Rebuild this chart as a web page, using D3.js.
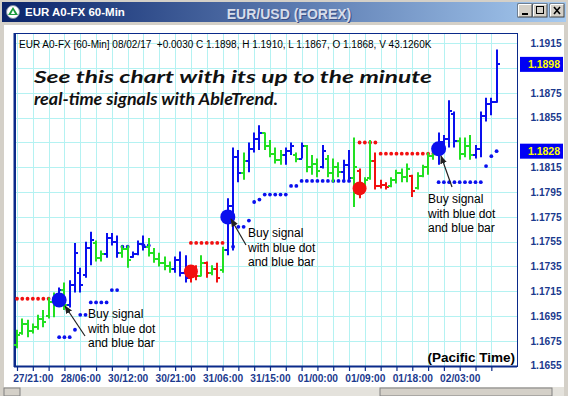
<!DOCTYPE html>
<html>
<head>
<meta charset="utf-8">
<script src="https://cdn.jsdelivr.net/npm/d3@7"></script>
<style>
  body { margin: 0; background: #d4d0c8; }
  svg { display: block; }
</style>
</head>
<body>
<svg id="chart" width="568" height="396"></svg>
<script>
// hourly bars, one per trading hour (weekend skipped), oldest first
const barHigh = [1.1684,1.1693,1.1692,1.1689,1.1696,1.1700,1.1710,1.1714,1.1718,1.1722,
  1.1724,1.1754,1.1734,1.1755,1.1763,1.1756,1.1748,1.1762,1.1762,1.1760,
  1.1752,1.1752,1.1747,1.1756,1.1760,1.1758,1.1750,1.1746,1.1743,1.1739,
  1.1743,1.1747,1.1744,1.1735,1.1736,1.1744,1.1739,1.1736,1.1738,1.1751,
  1.1790,1.1831,1.1829,1.1827,1.1835,1.1843,1.1849,1.1843,1.1837,1.1831,
  1.1829,1.1831,1.1835,1.1827,1.1835,1.1833,1.1825,1.1822,1.1833,1.1825,
  1.1822,1.1819,1.1821,1.1829,1.1839,1.1814,1.1807,1.1837,1.1827,1.1805,
  1.1803,1.1807,1.1813,1.1814,1.1818,1.1809,1.1811,1.1817,1.1827,1.1829,
  1.1843,1.1841,1.1869,1.1860,1.1839,1.1839,1.1841,1.1833,1.1860,1.1871,
  1.1871,1.1910];
const barLow = [1.1669,1.1680,1.1678,1.1681,1.1684,1.1686,1.1693,1.1694,1.1708,1.1700,
  1.1702,1.1714,1.1714,1.1726,1.1736,1.1739,1.1739,1.1742,1.1752,1.1742,
  1.1742,1.1734,1.1742,1.1744,1.1748,1.1743,1.1738,1.1735,1.1732,1.1730,
  1.1730,1.1727,1.1722,1.1722,1.1724,1.1727,1.1726,1.1728,1.1722,1.1730,
  1.1744,1.1748,1.1803,1.1805,1.1811,1.1827,1.1829,1.1829,1.1823,1.1818,
  1.1817,1.1817,1.1825,1.1819,1.1822,1.1811,1.1809,1.1807,1.1814,1.1807,
  1.1803,1.1807,1.1803,1.1805,1.1783,1.1790,1.1799,1.1805,1.1797,1.1798,
  1.1797,1.1799,1.1802,1.1803,1.1803,1.1791,1.1797,1.1807,1.1809,1.1821,
  1.1817,1.1827,1.1831,1.1831,1.1821,1.1823,1.1821,1.1822,1.1823,1.1852,
  1.1857,1.1867];
const barOpen = [1.1672,1.1681,1.1689,1.1683,1.1686,1.1693,1.1695,1.1706,1.1711,1.1716,
  1.1704,1.1720,1.1730,1.1728,1.1750,1.1754,1.1742,1.1745,1.1758,1.1755,
  1.1746,1.1749,1.1743,1.1745,1.1753,1.1751,1.1746,1.1741,1.1738,1.1735,
  1.1733,1.1740,1.1730,1.1726,1.1729,1.1727,1.1738,1.1730,1.1733,1.1732,
  1.1748,1.1784,1.1823,1.1810,1.1820,1.1830,1.1838,1.1843,1.1832,1.1826,
  1.1821,1.1825,1.1828,1.1825,1.1822,1.1832,1.1815,1.1818,1.1815,1.1822,
  1.1810,1.1815,1.1811,1.1817,1.1806,1.1812,1.1800,1.1806,1.1820,1.1800,
  1.1801,1.1800,1.1805,1.1810,1.1807,1.1808,1.1798,1.1808,1.1815,1.1824,
  1.1826,1.1835,1.1838,1.1858,1.1836,1.1826,1.1832,1.1825,1.1830,1.1856,
  1.1866,1.1868];
const barClose = [1.1680,1.1689,1.1683,1.1686,1.1693,1.1690,1.1706,1.1711,1.1716,1.1704,
  1.1720,1.1746,1.1720,1.1750,1.1756,1.1742,1.1745,1.1758,1.1755,1.1746,
  1.1749,1.1740,1.1745,1.1753,1.1751,1.1746,1.1741,1.1738,1.1735,1.1733,
  1.1740,1.1730,1.1726,1.1729,1.1727,1.1738,1.1730,1.1733,1.1726,1.1748,
  1.1784,1.1823,1.1810,1.1820,1.1830,1.1838,1.1843,1.1832,1.1826,1.1821,
  1.1825,1.1828,1.1832,1.1822,1.1832,1.1815,1.1818,1.1812,1.1828,1.1810,
  1.1815,1.1811,1.1817,1.1806,1.1815,1.1795,1.1805,1.1820,1.1800,1.1801,
  1.1799,1.1805,1.1810,1.1807,1.1814,1.1796,1.1808,1.1815,1.1824,1.1826,
  1.1835,1.1838,1.1860,1.1836,1.1826,1.1832,1.1825,1.1830,1.1856,1.1866,
  1.1868,1.1898];
// AbleTrend bar colour: B = up, R = down, G = neutral
const barTrend = ["G","G","G","G","G","G","G","G","B","G",
  "B","B","B","B","B","G","G","B","B","B",
  "G","G","B","B","B","G","G","G","G","G",
  "B","B","B","R","R","G","R","G","R","G",
  "B","B","B","G","B","B","B","G","G","G",
  "G","B","B","G","B","G","G","G","B","G",
  "G","G","B","B","G","R","G","G","R","R",
  "R","G","G","G","G","R","G","G","G","G",
  "B","B","B","B","G","G","G","B","B","B",
  "B","B"];

// stop dots [bar index, price]
const blueStops = [[8,1.1678],[9,1.1678],[10,1.1678],[11,1.1684],[12,1.1696],[13,1.1696],
  [14,1.1706],[15,1.1706],[16,1.1706],[17,1.1706],[18,1.1716],[19,1.1716],[20,1.1751],[21,1.1751],
  [24,1.1752],[25,1.1752],
  [41,1.1751],[42,1.1767],[43,1.1767],[44,1.1772],[45,1.1787],[46,1.1789],
  [47,1.1793],[48,1.1793],[49,1.1793],[50,1.1793],[51,1.1793],[52,1.1800],[53,1.1800],
  [54,1.1804],[55,1.1804],[56,1.1804],[57,1.1804],[58,1.1804],[59,1.1804],[60,1.1804],
  [61,1.1804],[62,1.1804],[63,1.1804],
  [80,1.1803],[81,1.1803],[82,1.1803],[83,1.1803],[84,1.1803],[85,1.1803],[86,1.1803],
  [87,1.1803],[88,1.1803],[89,1.1816],[90,1.1824],[91,1.1828]];
const redStops = [[0,1.1709],[1,1.1709],[2,1.1709],[3,1.1709],[4,1.1709],[5,1.1709],[6,1.1709],[7,1.1709],
  [33,1.1754],[34,1.1754],[35,1.1754],[36,1.1754],[37,1.1754],[38,1.1754],[39,1.1754],
  [65,1.1835],[66,1.1835],[67,1.1835],[68,1.1835],
  [69,1.1826],[70,1.1826],[71,1.1826],[72,1.1826],[73,1.1826],[74,1.1826],[75,1.1826],
  [76,1.1826],[77,1.1826],[78,1.1826],[79,1.1826]];
const buySignals = [[8,1.1708],[40,1.1775],[80,1.1830]];
const sellSignals = [[33,1.1731],[65,1.1798]];

const yTicks = [1.1655,1.1675,1.1695,1.1715,1.1735,1.1755,1.1775,1.1795,1.1815,1.1835,1.1855,1.1875,1.1895,1.1915];
const xTickIdx = [0,3,6,9,12,15,18,21,24,27,30,33,36,39,42,45,48,51,54,57,60,63,66,69,72,75,78,81,84,87,90];
const xLabelIdx = [3,12,21,30,39,48,57,66,75,84];
const xLabels = ["27/21:00","28/06:00","30/12:00","30/21:00","31/06:00","31/15:00","01/00:00","01/09:00","01/18:00","02/03:00"];
const priceMarks = [1.1898, 1.1828]; // last close, current stop

const svg = d3.select("#chart");
const width = +svg.attr("width");
const height = +svg.attr("height");
const plot = { left: 15, right: 517, top: 33, bottom: 366 };
const navy = "#1b3a8e";
const trendColor = { B: "#0a10ee", G: "#22e022", R: "#f21010" };

const x = d3.scaleLinear().domain([0, 91]).range([17, 496.6]);
const y = d3.scaleLinear().domain([1.1655, 1.19233]).range([365.7, 33]);

// window frame
svg.append("rect").attr("width", width).attr("height", height).attr("fill", "#d4d0c8");
const grad = svg.append("defs").append("linearGradient").attr("id", "tbar");
grad.append("stop").attr("offset", "0%").attr("stop-color", "#0a246a");
grad.append("stop").attr("offset", "100%").attr("stop-color", "#a6caf0");
svg.append("rect").attr("x", 2).attr("y", 2).attr("width", width - 4).attr("height", 20).attr("fill", "url(#tbar)");

// app icon
svg.append("circle").attr("cx", 13).attr("cy", 12).attr("r", 6.5).attr("fill", "#fff").attr("stroke", "#7a8aa0");
svg.append("path").attr("d", "M13,7 L18,15 L8,15 Z").attr("fill", "#1a9a3a");
svg.append("path").attr("d", "M13,10 L15,14 L11,14 Z").attr("fill", "#fff");

svg.append("text").attr("x", 25).attr("y", 16)
  .attr("font-family", "Liberation Sans, Arial, sans-serif").attr("font-size", "11.5px")
  .attr("font-weight", "bold").attr("fill", "#fff").text("EUR A0-FX 60-Min");
svg.append("text").attr("x", 290).attr("y", 20).attr("text-anchor", "middle")
  .attr("font-family", "Liberation Sans, Arial, sans-serif").attr("font-size", "14px")
  .attr("font-weight", "bold").attr("fill", "#3a4f86").text("EUR/USD (FOREX)");
svg.append("text").attr("x", 289).attr("y", 19).attr("text-anchor", "middle")
  .attr("font-family", "Liberation Sans, Arial, sans-serif").attr("font-size", "14px")
  .attr("font-weight", "bold").attr("fill", "#d6dcea").text("EUR/USD (FOREX)");

// window buttons
const btns = svg.append("g");
[518, 533, 550].forEach((bx, k) => {
  const g = btns.append("g").attr("transform", `translate(${bx},4)`);
  g.append("rect").attr("width", 14).attr("height", 13).attr("fill", "#d4d0c8")
    .attr("stroke", "#404040").attr("stroke-width", 1);
  g.append("path").attr("d", "M0.5,12.5 V0.5 H13.5").attr("stroke", "#fff").attr("fill", "none");
  if (k === 0) g.append("rect").attr("x", 4).attr("y", 9).attr("width", 6).attr("height", 2).attr("fill", "#000");
  if (k === 1) g.append("rect").attr("x", 3.5).attr("y", 2.5).attr("width", 7).attr("height", 7)
    .attr("fill", "none").attr("stroke", "#000").attr("stroke-width", 1);
  if (k === 2) g.append("path").attr("d", "M4,3 L10,10 M10,3 L4,10").attr("stroke", "#000").attr("stroke-width", 1.6);
});

// chart panel
svg.append("rect").attr("x", 4).attr("y", 25).attr("width", 560).attr("height", 362).attr("fill", "#fff");
// scrollbar strip
svg.append("rect").attr("x", 4).attr("y", 387).attr("width", 560).attr("height", 9).attr("fill", "#e4e2dc");
svg.append("rect").attr("x", 380).attr("y", 388).attr("width", 172).attr("height", 8).attr("fill", "#d4d0c8")
  .attr("stroke", "#808080");
svg.append("rect").attr("x", 4).attr("y", 388).attr("width", 16).attr("height", 8).attr("fill", "#d4d0c8")
  .attr("stroke", "#808080");

// grid
const grid = svg.append("g").attr("stroke", "#b4f2f2").attr("stroke-width", 1).attr("shape-rendering", "crispEdges");
grid.selectAll("line.h").data(yTicks.slice(1)).enter().append("line")
  .attr("x1", plot.left).attr("x2", plot.right)
  .attr("y1", d => Math.round(y(d)) + 0.5).attr("y2", d => Math.round(y(d)) + 0.5);
grid.selectAll("line.v").data(xTickIdx).enter().append("line")
  .attr("x1", d => Math.round(x(d)) + 0.5).attr("x2", d => Math.round(x(d)) + 0.5)
  .attr("y1", plot.top).attr("y2", plot.bottom);

// plot border
svg.append("rect").attr("x", plot.left).attr("y", plot.top + 0.5)
  .attr("width", plot.right - plot.left).attr("height", plot.bottom - plot.top)
  .attr("fill", "none").attr("stroke", "#0a2a8a").attr("stroke-width", 1).attr("shape-rendering", "crispEdges");
svg.append("line").attr("x1", plot.left - 0.5).attr("x2", plot.left - 0.5).attr("y1", plot.top).attr("y2", plot.bottom + 1)
  .attr("stroke", "#0a2a8a").attr("stroke-width", 2);

// x axis
const xAxis = svg.append("g").attr("transform", `translate(0,${plot.bottom})`)
  .call(d3.axisBottom(x).tickValues(xTickIdx).tickSize(5)
    .tickFormat(d => { const k = xLabelIdx.indexOf(d); return k < 0 ? "" : xLabels[k]; }));
xAxis.select(".domain").attr("d", `M${plot.left - 1},0.5H${plot.right}`).attr("stroke", "#0a2a8a").attr("stroke-width", 2);
xAxis.selectAll(".tick line").attr("stroke", "#0a2a8a").attr("stroke-width", 1.2);
xAxis.selectAll(".tick text").attr("y", 9).attr("dy", "0.71em")
  .attr("font-family", "Liberation Sans, Arial, sans-serif").attr("font-size", "10.2px")
  .attr("font-weight", "bold").attr("fill", navy);

// y axis labels on the right; labels hidden under the price boxes are left out
const yLabelTicks = yTicks.filter(t => priceMarks.every(p => Math.abs(y(t) - y(p)) > 10));
const yAxis = svg.append("g").attr("transform", `translate(${plot.right},0)`)
  .call(d3.axisRight(y).tickValues(yLabelTicks).tickSize(0).tickFormat(d3.format(".4f")));
yAxis.select(".domain").remove();
yAxis.selectAll(".tick text").attr("x", 29).attr("text-anchor", "middle")
  .attr("font-family", "Liberation Sans, Arial, sans-serif").attr("font-size", "10.2px")
  .attr("font-weight", "bold").attr("fill", navy);

const marks = svg.append("g").selectAll("g").data(priceMarks).enter().append("g")
  .attr("transform", d => `translate(0,${y(d)})`);
marks.append("rect").attr("x", plot.right + 3).attr("y", -7.5).attr("width", 43).attr("height", 15).attr("fill", "#0000f4");
marks.append("text").attr("x", plot.right + 27).attr("dy", "0.36em").attr("text-anchor", "middle")
  .attr("font-family", "Liberation Sans, Arial, sans-serif").attr("font-size", "10.5px")
  .attr("font-weight", "bold").attr("fill", "#ffff00").text(d => d.toFixed(4));

// header line
svg.append("text").attr("x", 19).attr("y", 48).attr("style", "white-space:pre")
  .attr("font-family", "Liberation Sans, Arial, sans-serif").attr("font-size", "10px").attr("fill", "#000")
  .text("EUR A0-FX [60-Min] 08/02/17  +0.0030 C 1.1898, H 1.1910, L 1.1867, O 1.1868, V 43.1260K");

// promo text
const promo = svg.append("g").attr("font-family", "Lato, 'Open Sans', sans-serif").attr("font-size", "17px")
  .attr("font-style", "italic").attr("font-weight", "bold").attr("fill", "#111");
promo.append("text").attr("x", 34).attr("y", 83).attr("textLength", 398).attr("lengthAdjust", "spacingAndGlyphs")
  .text("See this chart with its up to the minute");
promo.append("text").attr("x", 34).attr("y", 105).attr("textLength", 244).attr("lengthAdjust", "spacingAndGlyphs")
  .text("real-time signals with AbleTrend.");

// stop dots
svg.append("g").selectAll("circle").data(redStops).enter().append("circle")
  .attr("cx", d => x(d[0])).attr("cy", d => y(d[1])).attr("r", 1.9).attr("fill", trendColor.R);
svg.append("g").selectAll("circle").data(blueStops).enter().append("circle")
  .attr("cx", d => x(d[0])).attr("cy", d => y(d[1])).attr("r", 1.9).attr("fill", trendColor.B);

// OHLC bars
const bars = d3.range(barHigh.length).map(i => ({
  i, h: barHigh[i], l: barLow[i], o: barOpen[i], c: barClose[i], t: barTrend[i]
}));
const barG = svg.append("g").selectAll("g").data(bars).enter().append("g")
  .attr("stroke", d => trendColor[d.t]).attr("stroke-width", 2);
barG.append("line").attr("x1", d => Math.round(x(d.i))).attr("x2", d => Math.round(x(d.i)))
  .attr("y1", d => y(d.h)).attr("y2", d => y(d.l));
barG.append("line").attr("x1", d => Math.round(x(d.i)) - 3).attr("x2", d => Math.round(x(d.i)))
  .attr("y1", d => Math.round(y(d.o))).attr("y2", d => Math.round(y(d.o)));
barG.append("line").attr("x1", d => Math.round(x(d.i))).attr("x2", d => Math.round(x(d.i)) + 3)
  .attr("y1", d => Math.round(y(d.c))).attr("y2", d => Math.round(y(d.c)));

// signal dots
svg.append("g").selectAll("circle").data(buySignals).enter().append("circle")
  .attr("cx", d => x(d[0])).attr("cy", d => y(d[1])).attr("r", 7.5).attr("fill", trendColor.B);
svg.append("g").selectAll("circle").data(sellSignals).enter().append("circle")
  .attr("cx", d => x(d[0])).attr("cy", d => y(d[1])).attr("r", 7).attr("fill", trendColor.R);

// annotations
const notes = [
  { tx: 88, ty: 318, head: [65, 306], tail: [85, 336] },
  { tx: 248, ty: 237, head: [231, 219], tail: [246, 245] },
  { tx: 428, ty: 203, head: [441, 156], tail: [452, 187] }
];
svg.append("defs").append("marker").attr("id", "ah").attr("viewBox", "0 0 10 10")
  .attr("refX", 9).attr("refY", 5).attr("markerWidth", 7).attr("markerHeight", 7).attr("orient", "auto")
  .append("path").attr("d", "M0,1 L10,5 L0,9 Z").attr("fill", "#222");
notes.forEach(n => {
  svg.append("line").attr("x1", n.tail[0]).attr("y1", n.tail[1]).attr("x2", n.head[0]).attr("y2", n.head[1])
    .attr("stroke", "#222").attr("stroke-width", 1.2).attr("marker-end", "url(#ah)");
  const t = svg.append("text").attr("font-family", "Liberation Sans, Arial, sans-serif")
    .attr("font-size", "12px").attr("fill", "#000");
  ["Buy signal", "with blue dot", "and blue bar"].forEach((s, k) => {
    t.append("tspan").attr("x", n.tx).attr("y", n.ty + k * 14.5).text(s);
  });
});

svg.append("text").attr("x", 515).attr("y", 362).attr("text-anchor", "end")
  .attr("font-family", "Liberation Sans, Arial, sans-serif").attr("font-size", "13.5px")
  .attr("font-weight", "bold").attr("fill", "#000").text("(Pacific Time)");
</script>
</body>
</html>
